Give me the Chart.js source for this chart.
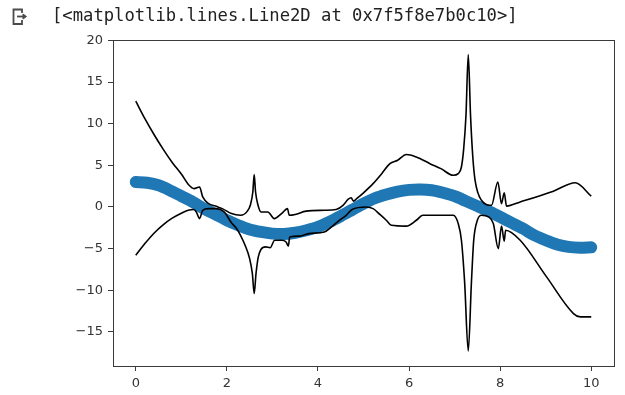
<!DOCTYPE html>
<html>
<head>
<meta charset="utf-8">
<script src="https://cdn.jsdelivr.net/npm/chart.js@4"></script>
<style>
  html, body { margin: 0; padding: 0; background: #fff; }
  #wrap { position: relative; width: 625px; height: 395px; overflow: hidden; }
  #c { position: absolute; left: 0; top: 0; }
  #hdr { position: absolute; left: 52px; top: 4px; font-family: "DejaVu Sans Mono", monospace; font-size: 17.2px; color: #212121; white-space: pre; line-height: 22px; }
  #icon { position: absolute; left: 0; top: 0; }
</style>
</head>
<body>
<div id="wrap">
  <canvas id="c" width="625" height="395"></canvas>
  <svg id="icon" width="40" height="32" viewBox="0 0 40 32">
    <path d="M22 13 V9.5 H13.5 V24 H22 V20" fill="none" stroke="#4a4a4a" stroke-width="1.8"/>
    <path d="M17 16.5 H25" fill="none" stroke="#4a4a4a" stroke-width="1.8"/>
    <path d="M23 14 L26.5 16.5 L23 19 Z" fill="#4a4a4a" stroke="#4a4a4a" stroke-width="1"/>
  </svg>
  <div id="hdr">[&lt;matplotlib.lines.Line2D at 0x7f5f8e7b0c10&gt;]</div>
</div>
<script>
// ---- data ----
const blueX = [0, 0.25, 0.5, 0.75, 1.0, 1.25, 1.5, 1.75, 2.0, 2.25, 2.5, 2.75, 3.0, 3.25, 3.5, 3.75, 4.0, 4.25, 4.5, 4.75, 5.0, 5.25, 5.5, 5.75, 6.0, 6.25, 6.5, 6.75, 7.0, 7.25, 7.5, 7.75, 8.0, 8.25, 8.5, 8.75, 9.0, 9.25, 9.5, 9.75, 10.0];
const blueY = [3.0, 2.9, 2.6, 2.0, 1.3, 0.6, -0.2, -0.9, -1.6, -2.2, -2.7, -3.0, -3.2, -3.25, -3.1, -2.8, -2.4, -1.8, -1.1, -0.35, 0.4, 1.05, 1.5, 1.85, 2.05, 2.1, 2.0, 1.7, 1.3, 0.7, 0.1, -0.5, -1.2, -1.9, -2.6, -3.4, -4.0, -4.5, -4.8, -4.9, -4.85];

const upperX = [0.0, 0.2, 0.4, 0.6, 0.8, 1.0, 1.17, 1.28, 1.4, 1.47, 1.6, 1.75, 1.9, 2.1, 2.3, 2.45, 2.52, 2.57, 2.6, 2.63, 2.68, 2.75, 2.9, 3.04, 3.2, 3.33, 3.37, 3.5, 3.74, 4.14, 4.4, 4.55, 4.66, 4.73, 4.78, 4.85, 5.0, 5.21, 5.4, 5.58, 5.75, 5.94, 6.16, 6.46, 6.7, 6.97, 7.08, 7.15, 7.2, 7.25, 7.3, 7.35, 7.4, 7.45, 7.59, 7.81, 7.95, 8.03, 8.09, 8.14, 8.44, 9.17, 9.65, 10.0];
const upperY = [12.7, 10.6, 8.7, 6.95, 5.35, 3.95, 2.6, 2.2, 2.4, 1.2, 0.4, 0.1, -0.2, -0.8, -1.0, -0.5, 0.3, 1.8, 3.9, 1.8, 0.3, -0.6, -0.6, -1.4, -0.8, -0.2, -1.0, -0.9, -0.5, -0.4, -0.3, 0.2, 0.9, 1.1, 0.7, 1.0, 1.7, 2.8, 4.0, 5.2, 5.6, 6.3, 6.0, 5.2, 4.6, 3.8, 4.0, 4.8, 7.0, 11.0, 18.3, 11.0, 6.0, 3.2, 0.8, 0.2, 3.0, 0.4, 1.7, 0.1, 0.6, 1.9, 2.9, 1.3];

const lowerX = [0.0, 0.2, 0.4, 0.6, 0.8, 1.0, 1.15, 1.27, 1.33, 1.4, 1.47, 1.6, 1.75, 1.94, 2.1, 2.2, 2.3, 2.4, 2.5, 2.56, 2.6, 2.64, 2.69, 2.75, 2.85, 2.95, 3.05, 3.2, 3.3, 3.35, 3.38, 3.6, 3.8, 4.14, 4.3, 4.47, 4.62, 4.75, 5.06, 5.21, 5.36, 5.5, 5.61, 5.94, 6.16, 6.3, 6.97, 7.08, 7.15, 7.22, 7.3, 7.37, 7.42, 7.5, 7.59, 7.75, 7.85, 7.96, 8.03, 8.09, 8.12, 8.44, 9.02, 9.61, 9.76, 10.0];
const lowerY = [-5.8, -4.4, -3.15, -2.15, -1.35, -0.75, -0.4, -0.3, -0.6, -1.4, -0.4, -0.2, -0.2, -0.6, -1.9, -2.5, -3.4, -4.6, -6.2, -8.0, -10.4, -8.0, -6.0, -5.1, -4.8, -4.9, -4.0, -4.0, -4.2, -4.7, -3.6, -3.5, -3.2, -3.0, -2.4, -1.6, -1.0, -0.3, 0.0, -0.2, -0.9, -1.6, -2.2, -2.3, -1.6, -1.0, -1.0, -2.0, -4.0, -9.0, -17.3, -9.0, -4.0, -1.6, -1.0, -1.2, -2.0, -5.0, -2.3, -4.1, -2.8, -4.0, -8.4, -12.8, -13.2, -13.2];

const xTicks = [0, 2, 4, 6, 8, 10];
const yTicks = [-15, -10, -5, 0, 5, 10, 15, 20];

const pts = (xs, ys) => xs.map((x, i) => ({ x: x, y: ys[i] }));
const fmt = v => (v < 0 ? '\u2212' + Math.abs(v) : String(v));

const frame = {
  id: 'frame',
  afterDatasetsDraw(chart) {
    const a = chart.chartArea, ctx = chart.ctx;
    ctx.save();
    ctx.strokeStyle = '#3a3a3a';
    ctx.lineWidth = 1;
    ctx.strokeRect(Math.round(a.left) + 0.5, Math.round(a.top) + 0.5, Math.round(a.right - a.left), Math.round(a.bottom - a.top));
    ctx.restore();
  }
};

const tickFont = { family: 'DejaVu Sans', size: 13 };

new Chart(document.getElementById('c'), {
  type: 'scatter',
  data: {
    datasets: [
      { data: pts(upperX, upperY), showLine: true, borderColor: '#000', borderWidth: 1.6, pointRadius: 0, cubicInterpolationMode: 'monotone', order: 1 },
      { data: pts(lowerX, lowerY), showLine: true, borderColor: '#000', borderWidth: 1.6, pointRadius: 0, cubicInterpolationMode: 'monotone', order: 1 },
      { data: pts(blueX, blueY), showLine: true, borderColor: '#1f77b4', backgroundColor: '#1f77b4', borderWidth: 12, borderCapStyle: 'round', borderJoinStyle: 'round', pointRadius: 0, tension: 0.3, order: 2 }
    ]
  },
  options: {
    responsive: false,
    animation: false,
    events: [],
    layout: { padding: { left: 0, right: 11, top: 40, bottom: 0 } },
    plugins: { legend: { display: false }, tooltip: { enabled: false } },
    scales: {
      x: {
        type: 'linear', min: -0.5, max: 10.5,
        afterBuildTicks: s => { s.ticks = xTicks.map(v => ({ value: v })); },
        afterFit: s => { s.height = 29; },
        border: { display: false },
        grid: { drawOnChartArea: false, drawTicks: true, tickLength: 5, color: '#3a3a3a' },
        ticks: { color: '#333', font: tickFont, padding: 5, maxRotation: 0, callback: v => fmt(v) }
      },
      y: {
        type: 'linear', min: -19.1, max: 20.05,
        afterBuildTicks: s => { s.ticks = yTicks.map(v => ({ value: v })); },
        afterFit: s => { s.width = 113; },
        border: { display: false },
        grid: { drawOnChartArea: false, drawTicks: true, tickLength: 5, color: '#3a3a3a' },
        ticks: { color: '#333', font: tickFont, padding: 5, callback: v => fmt(v) }
      }
    }
  },
  plugins: [frame]
});
</script>
</body>
</html>
